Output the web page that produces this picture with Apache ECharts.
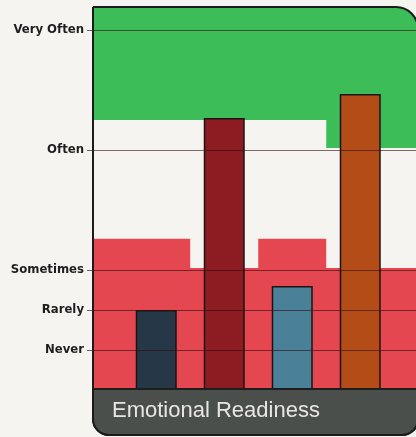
<!DOCTYPE html>
<html><head><meta charset="utf-8">
<script src="https://cdn.jsdelivr.net/npm/echarts@6/dist/echarts.min.js"></script>
<style>html,body{margin:0;padding:0;background:#f6f4f1;}#c{width:416px;height:437px;}</style>
</head><body><div id="c"></div>
<script>
// ---- data ----
const barPositions = [1, 2, 3, 4];
const barValues = [2.0, 6.8, 2.6, 7.4];
const levelValues = [1, 2, 3, 6, 9];
const levelLabels = ['Never', 'Rarely', 'Sometimes', 'Often', 'Very Often'];
const redBandTops = [3.78, 3.05, 3.78, 3.05];
const greenBandBottoms = [6.75, 6.75, 6.75, 6.05];
const axisTitle = 'Emotional Readiness';

// ---- styles / scale ----
const X_MIN = 0.07, X_MAX = 4.82, Y_MIN = 0, Y_MAX = 9.575;
const barColors = ['#263848', '#8c1c22', '#4a8098', '#b44c18'];
const PAGE = '#f6f4f1';
const RED = '#e4474f', GREEN = '#3dbd57';

function xSpan(i) {
  const n = barPositions.length;
  return [i === 0 ? X_MIN : barPositions[i] - 0.5, i === n - 1 ? X_MAX : barPositions[i] + 0.5];
}
// red: one base band up to the lowest top, plus step pieces for taller categories
const redBase = Math.min(...redBandTops);
const redAreas = [[{ xAxis: X_MIN, yAxis: Y_MIN, itemStyle: { color: RED } }, { xAxis: X_MAX, yAxis: redBase }]];
redBandTops.forEach((v, i) => {
  if (v > redBase) {
    const [l, r] = xSpan(i);
    redAreas.push([{ xAxis: l, yAxis: redBase - 0.05, itemStyle: { color: RED } }, { xAxis: r, yAxis: v }]);
  }
});
// green: one base band down to the highest bottom, plus step pieces for lower categories
const greenBase = Math.max(...greenBandBottoms);
const greenAreas = [[{ xAxis: X_MIN, yAxis: greenBase, itemStyle: { color: GREEN } }, { xAxis: X_MAX, yAxis: Y_MAX }]];
greenBandBottoms.forEach((v, i) => {
  if (v < greenBase) {
    const [l, r] = xSpan(i);
    greenAreas.push([{ xAxis: l, yAxis: v, itemStyle: { color: GREEN } }, { xAxis: r, yAxis: greenBase + 0.05 }]);
  }
});

// corner mask polygon (outside the rounded top-right corner of the frame)
const FR = 418, CR = 22, CX = FR - CR, CY = 7 + CR;
const cornerPts = [[CX, 4], [422, 4], [422, CY]];
for (let k = 0; k <= 16; k++) {
  const a = (k / 16) * Math.PI / 2;
  cornerPts.push([CX + CR * Math.cos(a), CY - CR * Math.sin(a)]);
}

const chart = echarts.init(document.getElementById('c'));
chart.setOption({
  backgroundColor: PAGE,
  animation: false,
  grid: { left: 93, right: 0, top: 7, bottom: 47 },
  xAxis: { type: 'value', min: X_MIN, max: X_MAX, show: false },
  yAxis: {
    type: 'value', min: Y_MIN, max: Y_MAX,
    axisLine: { show: false },
    axisTick: { show: true, customValues: levelValues, length: 6, lineStyle: { color: '#666', width: 1 } },
    axisLabel: {
      customValues: levelValues,
      formatter: v => levelLabels[levelValues.indexOf(v)],
      margin: 9, color: '#1e1e1e',
      fontFamily: 'DejaVu Sans Condensed', fontWeight: 'bold', fontSize: 13
    },
    splitLine: { show: false }
  },
  series: [
    {
      type: 'line', data: [], z: 1, silent: true,
      markArea: { silent: true, itemStyle: { borderWidth: 0 }, data: redAreas.concat(greenAreas) }
    },
    {
      type: 'line', data: [], z: 2, silent: true,
      markLine: {
        silent: true, symbol: 'none', label: { show: false },
        lineStyle: { color: 'rgba(50,12,12,0.6)', width: 1, type: 'solid' },
        data: levelValues.map(v => ({ yAxis: v }))
      }
    },
    {
      type: 'bar', z: 3, barWidth: 41,
      itemStyle: { borderColor: '#1c1414', borderWidth: 1.5 },
      data: barPositions.map((x, i) => ({ value: [x, barValues[i]], itemStyle: { color: barColors[i] } }))
    }
  ],
  graphic: [
    { type: 'polygon', z: 50, shape: { points: cornerPts }, style: { fill: PAGE } },
    { type: 'rect', z: 51, shape: { x: 93, y: 7, width: FR - 93, height: 428, r: [0, CR, 16, 16] }, style: { fill: 'none', stroke: '#1b1b1b', lineWidth: 2 } },
    { type: 'rect', z: 52, shape: { x: 93, y: 389, width: FR - 93, height: 46, r: [0, 0, 16, 16] }, style: { fill: '#4b4f4b', stroke: '#1b1b1b', lineWidth: 2 } },
    { type: 'line', z: 53, shape: { x1: 93, y1: 389, x2: 418, y2: 389 }, style: { stroke: '#1e1e1e', lineWidth: 2 } },
    { type: 'text', z: 54, style: { text: axisTitle, x: 112, y: 411, fill: '#e6e6e6', font: '22px "Liberation Sans", Arial, sans-serif', verticalAlign: 'middle' } }
  ]
});
</script>
</body></html>
